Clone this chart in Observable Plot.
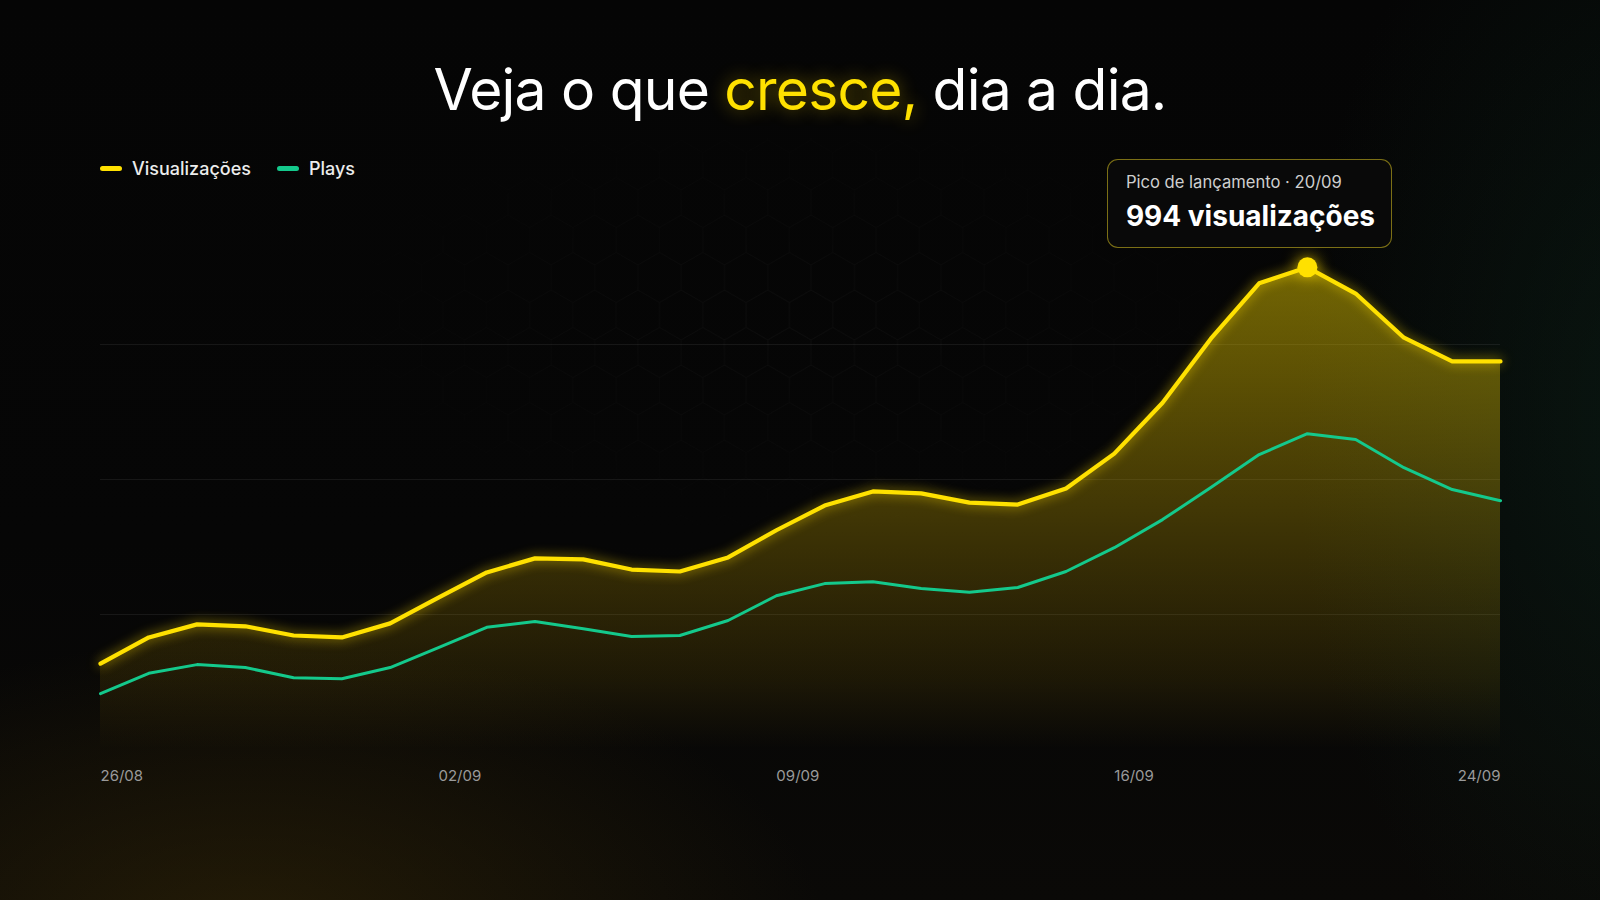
<!DOCTYPE html>
<html lang="pt-BR">
<head>
<meta charset="utf-8">
<script src="https://cdn.jsdelivr.net/npm/d3@7"></script>
<script src="https://cdn.jsdelivr.net/npm/@observablehq/plot@0.6"></script>
<style>
  html, body { margin: 0; padding: 0; }
  body { width: 1600px; height: 900px; overflow: hidden; background: #050505; font-family: Inter, "Noto Sans", sans-serif; }
  #stage {
    position: relative; width: 1600px; height: 900px; overflow: hidden;
    background:
      radial-gradient(ellipse 800px 420px at 250px 940px, rgba(62,46,6,0.5), rgba(0,0,0,0) 72%),
      radial-gradient(ellipse 520px 900px at 1660px 420px, rgba(14,42,30,0.45), rgba(0,0,0,0) 70%),
      linear-gradient(180deg, #050505 0%, #060606 60%, #0a0907 100%);
  }
  #hex {
    position: absolute; left: 0; top: 0; width: 1600px; height: 900px;
    -webkit-mask-image: radial-gradient(ellipse 560px 260px at 790px 320px, rgba(0,0,0,1), rgba(0,0,0,0) 100%);
    mask-image: radial-gradient(ellipse 560px 260px at 790px 320px, rgba(0,0,0,1), rgba(0,0,0,0) 100%);
  }
  #title {
    position: absolute; left: 0; top: 61px; width: 1600px; text-align: center;
    font-size: 57px; line-height: 57px; font-weight: 400; color: #ffffff; letter-spacing: -0.8px;
  }
  #title .hl { color: #FFE100; text-shadow: 0 0 18px rgba(255,215,0,0.45); }
  #legend {
    position: absolute; left: 100px; top: 158px; height: 20px; display: flex; align-items: center;
    font-size: 18px; font-weight: 500; color: #ececec;
  }
  .item { display: flex; align-items: center; margin-right: 26px; }
  .sw { width: 22px; height: 5px; border-radius: 3px; margin-right: 10px; }
  #chart { position: absolute; left: 0; top: 190px; }
  #chart svg { overflow: visible; }
  #tip {
    position: absolute; width: 285px; height: 89px; box-sizing: border-box;
    border: 1.5px solid rgba(200,180,30,0.6); border-radius: 11px; background: rgba(10,10,10,0.92);
  }
  #tip .l1 { position: absolute; left: 18px; top: 14px; font-size: 16.6px; line-height: 16px; color: #cfcfcf; white-space: nowrap; }
  #tip .l2 { position: absolute; left: 18px; top: 42px; font-size: 28px; line-height: 28px; font-weight: 700; color: #ffffff; white-space: nowrap; }
</style>
</head>
<body>
<div id="stage">
  <svg id="hex" width="1600" height="900" xmlns="http://www.w3.org/2000/svg">
    <defs>
      <pattern id="hexPat" width="43.3" height="75" patternUnits="userSpaceOnUse" x="10" y="140">
        <path d="M21.65 0 L43.3 12.5 L43.3 37.5 L21.65 50 L0 37.5 L0 12.5 Z M21.65 50 L21.65 75" fill="none" stroke="rgba(255,255,255,0.03)" stroke-width="1"/>
      </pattern>
    </defs>
    <rect width="1600" height="900" fill="url(#hexPat)"/>
  </svg>
  <div id="title">Veja o que <span class="hl">cresce,</span> dia a dia.</div>
  <div id="legend"></div>
  <div id="chart"></div>
  <div id="tip"><div class="l1"></div><div class="l2"></div></div>
</div>
<script>
// ---- data ----
const dates = [
  "2024-08-26","2024-08-27","2024-08-28","2024-08-29","2024-08-30","2024-08-31",
  "2024-09-01","2024-09-02","2024-09-03","2024-09-04","2024-09-05","2024-09-06",
  "2024-09-07","2024-09-08","2024-09-09","2024-09-10","2024-09-11","2024-09-12",
  "2024-09-13","2024-09-14","2024-09-15","2024-09-16","2024-09-17","2024-09-18",
  "2024-09-19","2024-09-20","2024-09-21","2024-09-22","2024-09-23","2024-09-24"
];
const visualizacoes = [177,231,258,254,235,231,260,313,365,394,392,371,367,396,452,
                       503,532,528,509,505,538,610,715,847,961,994,940,849,800,800];
const plays = [115,157,175,169,148,146,169,210,252,264,249,233,235,266,317,
               342,346,332,324,334,367,416,474,540,608,651,639,581,536,513];
const tickDates = ["2024-08-26","2024-09-02","2024-09-09","2024-09-16","2024-09-24"];
const tickLabels = ["26/08","02/09","09/09","16/09","24/09"];
const seriesNames = ["Visualizações","Plays"];
const seriesColors = ["#FFE100","#14C98C"];
const gridFractions = [0.25, 0.5, 0.75];
const peakTitle = "Pico de lançamento · 20/09";

// ---- build ----
const yellow = seriesColors[0], green = seriesColors[1];
const data = dates.map((d, i) => ({date: new Date(d), vis: visualizacoes[i], plays: plays[i]}));
const ticks = tickDates.map((d, i) => ({date: new Date(d), label: tickLabels[i]}));
const peakValue = Math.max(...visualizacoes);
const peak = data[visualizacoes.indexOf(peakValue)];
const yMax = peakValue * 1.12;

// legend
const legend = document.getElementById("legend");
seriesNames.forEach((n, i) => {
  const it = document.createElement("div"); it.className = "item";
  it.innerHTML = `<span class="sw" style="background:${seriesColors[i]}"></span><span>${n}</span>`;
  legend.appendChild(it);
});

const defs = () => {
  const g = document.createElementNS("http://www.w3.org/2000/svg", "defs");
  g.innerHTML = `<linearGradient id="visGrad" x1="0" y1="0" x2="0" y2="1">
      <stop offset="0" stop-color="#FFE100" stop-opacity="0.44"/>
      <stop offset="0.5" stop-color="#FFD400" stop-opacity="0.24"/>
      <stop offset="0.85" stop-color="#FFC800" stop-opacity="0.09"/>
      <stop offset="1" stop-color="#FFC000" stop-opacity="0.0"/>
    </linearGradient>`;
  return g;
};

const plot = Plot.plot({
  width: 1600, height: 620,
  marginLeft: 100, marginRight: 100, marginTop: 19, marginBottom: 61,
  style: {background: "transparent", overflow: "visible", fontFamily: "Inter, sans-serif"},
  x: {type: "utc", domain: [data[0].date, data[data.length - 1].date], axis: null},
  y: {domain: [0, yMax], axis: null},
  marks: [
    defs,
    Plot.ruleY(gridFractions.map(f => f * yMax), {stroke: "#ffffff", strokeOpacity: 0.07, strokeWidth: 1}),
    Plot.areaY(data, {x: "date", y: "vis", fill: "url(#visGrad)"}),
    Plot.lineY(data, {x: "date", y: "plays", stroke: green, strokeWidth: 3}),
    Plot.lineY(data, {x: "date", y: "vis", stroke: yellow, strokeWidth: 4.2}),
    Plot.dot([peak], {x: "date", y: "vis", r: 10, fill: yellow, stroke: "none"}),
    Plot.text(ticks.slice(0, -1), {x: "date", text: "label", frameAnchor: "bottom", dy: 31, textAnchor: "start", fill: "#9a9a9a", fontSize: 15}),
    Plot.text(ticks.slice(-1), {x: "date", text: "label", frameAnchor: "bottom", dy: 31, textAnchor: "end", fill: "#9a9a9a", fontSize: 15})
  ]
});
document.getElementById("chart").appendChild(plot);

const lineGroups = plot.querySelectorAll('g[aria-label="line"]');
if (lineGroups.length > 1) lineGroups[1].style.filter = "drop-shadow(0 0 6px rgba(255,220,0,0.7))";
const dotGroup = plot.querySelector('g[aria-label="dot"]');
if (dotGroup) dotGroup.style.filter = "drop-shadow(0 0 8px rgba(255,220,0,0.8))";

// tooltip anchored to the peak through the plot's scales
const px = plot.scale("x").apply(peak.date);
const py = plot.scale("y").apply(peak.vis) + 190;
const tip = document.getElementById("tip");
tip.style.left = (px - 200) + "px";
tip.style.top = (py - 108) + "px";
tip.querySelector(".l1").textContent = peakTitle;
tip.querySelector(".l2").textContent = `${peakValue} visualizações`;
</script>
</body>
</html>
